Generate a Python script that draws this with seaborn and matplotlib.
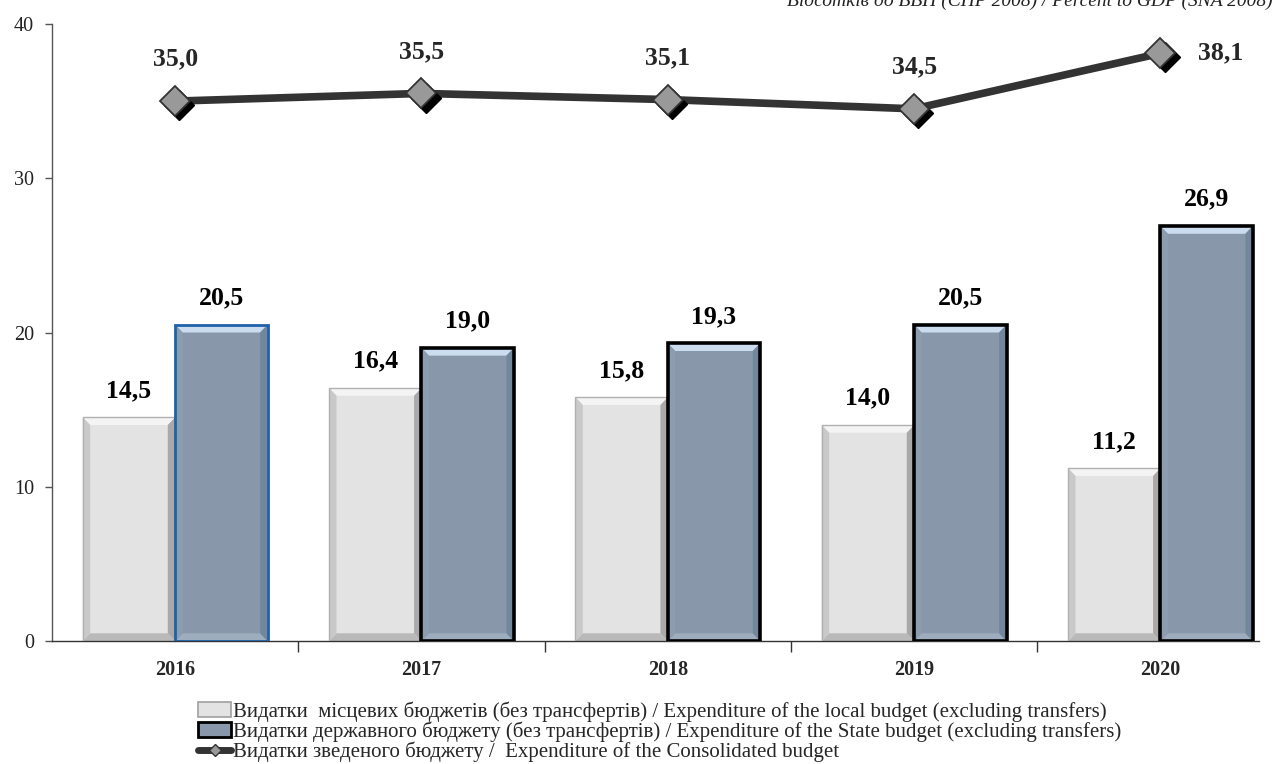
import numpy as np
import pandas as pd
import matplotlib
matplotlib.use("Agg")
import matplotlib.pyplot as plt
import matplotlib.transforms as mtransforms
from matplotlib.patches import Polygon, Rectangle, Patch
from matplotlib.lines import Line2D
import seaborn as sns

# %%
# data
years = ["2016", "2017", "2018", "2019", "2020"]
local_budget = [14.5, 16.4, 15.8, 14.0, 11.2]
state_budget = [20.5, 19.0, 19.3, 20.5, 26.9]
consolidated = [35.0, 35.5, 35.1, 34.5, 38.1]
y_ticks = [0, 10, 20, 30, 40]

lbl_local = "Видатки  місцевих бюджетів (без трансфертів) / Expenditure of the local budget (excluding transfers)"
lbl_state = "Видатки державного бюджету (без трансфертів) / Expenditure of the State budget (excluding transfers)"
lbl_cons = "Видатки зведеного бюджету /  Expenditure of the Consolidated budget"
unit_note = "Відсотків до ВВП (СНР 2008) / Percent to GDP (SNA 2008)"

sns.set_theme(style="white")
plt.rcParams["font.family"] = ["Liberation Serif", "DejaVu Serif"]

def fmt(v):
    return f"{v:.1f}".replace(".", ",")

def bevel(ax, p, top, bottom, left, right, dx=0.03, dy=0.5):
    # fake the excel bevel: four trapezoids inside the bar
    x0, w, h = p.get_x(), p.get_width(), p.get_height()
    x1 = x0 + w
    polys = [
        ([(x0, h), (x1, h), (x1 - dx, h - dy), (x0 + dx, h - dy)], top),
        ([(x0, 0), (x1, 0), (x1 - dx, dy), (x0 + dx, dy)], bottom),
        ([(x0, 0), (x0, h), (x0 + dx, h - dy), (x0 + dx, dy)], left),
        ([(x1, 0), (x1, h), (x1 - dx, h - dy), (x1 - dx, dy)], right),
    ]
    for pts, c in polys:
        ax.add_patch(Polygon(pts, closed=True, facecolor=c, edgecolor="none", zorder=2))

# %%
df = pd.DataFrame({
    "year": years * 2,
    "value": local_budget + state_budget,
    "series": ["local"] * len(years) + ["state"] * len(years),
})

fig = plt.figure(figsize=(12.79, 7.64), dpi=100)
ax = fig.add_axes([52 / 1279, 1 - 641 / 764, 1207 / 1279, 617 / 764])

sns.barplot(data=df, x="year", y="value", hue="series",
            palette={"local": "#e3e3e3", "state": "#8898aa"},
            width=0.75, gap=0, saturation=1, errorbar=None,
            legend=False, ax=ax)

local_bars, state_bars = ax.containers[0], ax.containers[1]

for p in local_bars:
    p.set_edgecolor("none")
    bevel(ax, p, "#f4f4f4", "#b9b9b9", "#c9c9c9", "#a9a9a9")
    ax.add_patch(Rectangle((p.get_x(), 0), p.get_width(), p.get_height(),
                           fill=False, edgecolor="#b0b0b0", lw=1.0, zorder=3))

for i, p in enumerate(state_bars):
    p.set_edgecolor("none")
    bevel(ax, p, "#cbdcef", "#9eadbd", "#8d9db0", "#72879b")
    ec, lw = ("#1f62a8", 2.0) if i == 0 else ("black", 2.6)
    ax.add_patch(Rectangle((p.get_x(), 0), p.get_width(), p.get_height(),
                           fill=False, edgecolor=ec, lw=lw, zorder=3))

for bars, vals in [(local_bars, local_budget), (state_bars, state_budget)]:
    for p, v in zip(bars, vals):
        ax.annotate(fmt(v), (p.get_x() + p.get_width() / 2, p.get_height()),
                    xytext=(0, 11), textcoords="offset points",
                    ha="center", va="bottom", fontsize=18.5, fontweight="bold",
                    color="black", zorder=8)

# consolidated line with shadowed diamonds
xs = np.arange(len(years))
ax.plot(xs, consolidated, color="#333333", lw=5.5, zorder=5, solid_capstyle="butt")
shadow = ax.transData + mtransforms.ScaledTranslation(3 / 72, -3 / 72, fig.dpi_scale_trans)
ax.plot(xs, consolidated, ls="none", marker="D", ms=15.5, mfc="black", mec="black",
        transform=shadow, zorder=6)
ax.plot(xs, consolidated, ls="none", marker="D", ms=15.5, mfc="#999999", mec="#333333",
        mew=1.3, zorder=7)

for x, v in zip(xs, consolidated):
    if x == xs[-1]:
        ax.annotate(fmt(v), (x, v), xytext=(27, 0), textcoords="offset points",
                    ha="left", va="center", fontsize=18.5, fontweight="bold", zorder=8)
    else:
        ax.annotate(fmt(v), (x, v), xytext=(0, 22), textcoords="offset points",
                    ha="center", va="bottom", fontsize=18.5, fontweight="bold", zorder=8)

# %%
# axes styling
ax.set_xlim(-0.5, 4.4)
ax.set_ylim(0, 40)
ax.set_yticks(y_ticks)
ax.set_xlabel("")
ax.set_ylabel("")
for s in ["top", "right"]:
    ax.spines[s].set_visible(False)
ax.spines["left"].set_color("#555555")
ax.spines["bottom"].set_color("#333333")
ax.spines["left"].set_linewidth(1.0)
ax.spines["bottom"].set_linewidth(1.0)

ax.tick_params(axis="y", which="major", left=True, length=5, width=1, color="#555555",
               labelsize=14.5, pad=8, labelcolor="#222222")
ax.tick_params(axis="x", which="major", bottom=False, labelsize=14.5, pad=8)
ax.set_xticks(xs[:-1] + 0.5, minor=True)
ax.tick_params(axis="x", which="minor", bottom=True, length=8, width=1, color="#333333")
for t in ax.get_xticklabels():
    t.set_fontweight("bold")

fig.text(1273 / 1279, 1 - 6 / 764, unit_note, ha="right", va="baseline",
         fontsize=14, style="italic", color="#222222")

handles = [
    Patch(facecolor="#e3e3e3", edgecolor="#a0a0a0", lw=1.2),
    Patch(facecolor="#8898aa", edgecolor="black", lw=2),
    Line2D([0], [0], color="#333333", lw=5, marker="D", ms=6, mfc="#999999", mec="#333333"),
]
fig.legend(handles, [lbl_local, lbl_state, lbl_cons], loc="upper left",
           bbox_to_anchor=(198 / 1279, 1 - 701 / 764), frameon=False,
           fontsize=15, handlelength=1.6, handletextpad=0.1, labelspacing=0.0,
           borderpad=0, borderaxespad=0)

fig.savefig("out.png", dpi=100)
